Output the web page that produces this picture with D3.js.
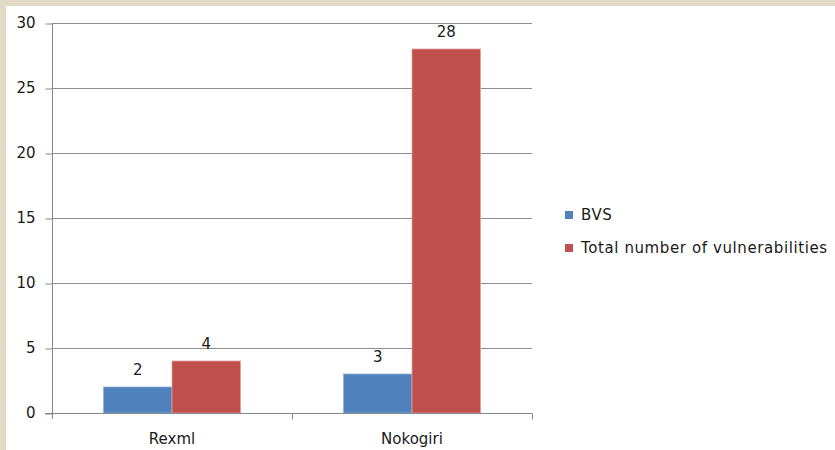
<!DOCTYPE html>
<html>
<head>
<meta charset="utf-8">
<script src="https://cdn.jsdelivr.net/npm/d3@7/dist/d3.min.js"></script>
<style>
  html, body { margin: 0; padding: 0; background: #fff; }
  svg { display: block; }
  text { font-family: "DejaVu Sans", Verdana, sans-serif; fill: #1a1a1a; }
</style>
</head>
<body>
<svg id="chart" width="835" height="450"></svg>
<script>
// Libraries compared and their vulnerability counts
const categories = ["Rexml", "Nokogiri"];
const seriesNames = ["BVS", "Total number of vulnerabilities"];
const bvsValues = [2, 3];
const totalValues = [4, 28];
const yTicks = [0, 5, 10, 15, 20, 25, 30];
const seriesColors = ["#4F81BD", "#C0504D"];
const seriesEdges = ["#8fb0da", "#e0a09e"];

const series = [bvsValues, totalValues];
const fontSize = 15;

const svg = d3.select("#chart");

// page frame: beige strip along top and left
svg.append("rect").attr("x", 0).attr("y", 0).attr("width", 835).attr("height", 450).attr("fill", "#e1dbc6");
svg.append("rect").attr("x", 6).attr("y", 6).attr("width", 829).attr("height", 444).attr("fill", "#ffffff");

const plot = { left: 52, right: 532, top: 23, bottom: 413 };

const x = d3.scaleBand().domain(categories).range([plot.left, plot.right]).paddingInner(0).paddingOuter(0);
const y = d3.scaleLinear().domain([0, 30]).range([plot.bottom, plot.top]);

// inner band for the two bars of each category (gap width ~150%)
const groupFrac = 137 / 240;
const xs = d3.scaleBand().domain(d3.range(series.length))
  .range([0, x.bandwidth() * groupFrac]);

// horizontal gridlines
svg.append("g").selectAll("line").data(yTicks.filter(d => d > 0)).join("line")
  .attr("x1", plot.left).attr("x2", plot.right)
  .attr("y1", d => Math.round(y(d)) + 0.5).attr("y2", d => Math.round(y(d)) + 0.5)
  .attr("stroke", "#8e8e8e").attr("stroke-width", 1);

// bars with value labels
categories.forEach((c, ci) => {
  const gx = x(c) + (x.bandwidth() - x.bandwidth() * groupFrac) / 2;
  series.forEach((vals, si) => {
    const v = vals[ci];
    svg.append("rect")
      .attr("x", gx + xs(si))
      .attr("y", y(v))
      .attr("width", xs.bandwidth())
      .attr("height", y(0) - y(v))
      .attr("fill", seriesColors[si])
      .attr("stroke", seriesEdges[si]).attr("stroke-width", 0.8);
    svg.append("text")
      .attr("x", gx + xs(si) + xs.bandwidth() / 2)
      .attr("y", y(v) - 12)
      .attr("text-anchor", "middle")
      .attr("font-size", fontSize)
      .text(v);
  });
});

// y axis
const yAxis = d3.axisLeft(y).tickValues(yTicks).tickSize(7).tickPadding(10).tickFormat(d3.format("d"));
const gy = svg.append("g").attr("transform", `translate(${plot.left + 0.5},0)`).call(yAxis);
gy.select(".domain").attr("stroke", "#868686").attr("d", `M0,${plot.top}V${plot.bottom + 6}`);
gy.selectAll(".tick line").attr("stroke", "#868686").attr("transform", "translate(0,0.5)");
gy.selectAll(".tick text").attr("font-size", fontSize).attr("font-family", "DejaVu Sans, Verdana, sans-serif").attr("fill", "#1a1a1a");

// x axis
const gx = svg.append("g").attr("transform", `translate(0,${plot.bottom + 0.5})`);
gx.append("line").attr("x1", plot.left - 7).attr("x2", plot.right).attr("stroke", "#868686");
const boundaries = categories.map(c => x(c)).concat([x(categories[categories.length - 1]) + x.bandwidth()]);
gx.selectAll("line.tick").data(boundaries.slice(1)).join("line").attr("class", "tick")
  .attr("x1", d => Math.round(d) + 0.5).attr("x2", d => Math.round(d) + 0.5)
  .attr("y1", 0).attr("y2", 6).attr("stroke", "#868686");
gx.selectAll("text").data(categories).join("text")
  .attr("x", d => x(d) + x.bandwidth() / 2)
  .attr("y", 30)
  .attr("text-anchor", "middle")
  .attr("font-size", fontSize)
  .text(d => d);

// legend
const legend = svg.append("g");
seriesNames.forEach((n, i) => {
  const top = 211 + i * 33;
  legend.append("rect").attr("x", 565).attr("y", top).attr("width", 8).attr("height", 8).attr("fill", seriesColors[i]);
  legend.append("text").attr("x", 581).attr("y", top + 9).attr("font-size", fontSize)
    .attr("letter-spacing", 0.6).text(n);
});
</script>
</body>
</html>
